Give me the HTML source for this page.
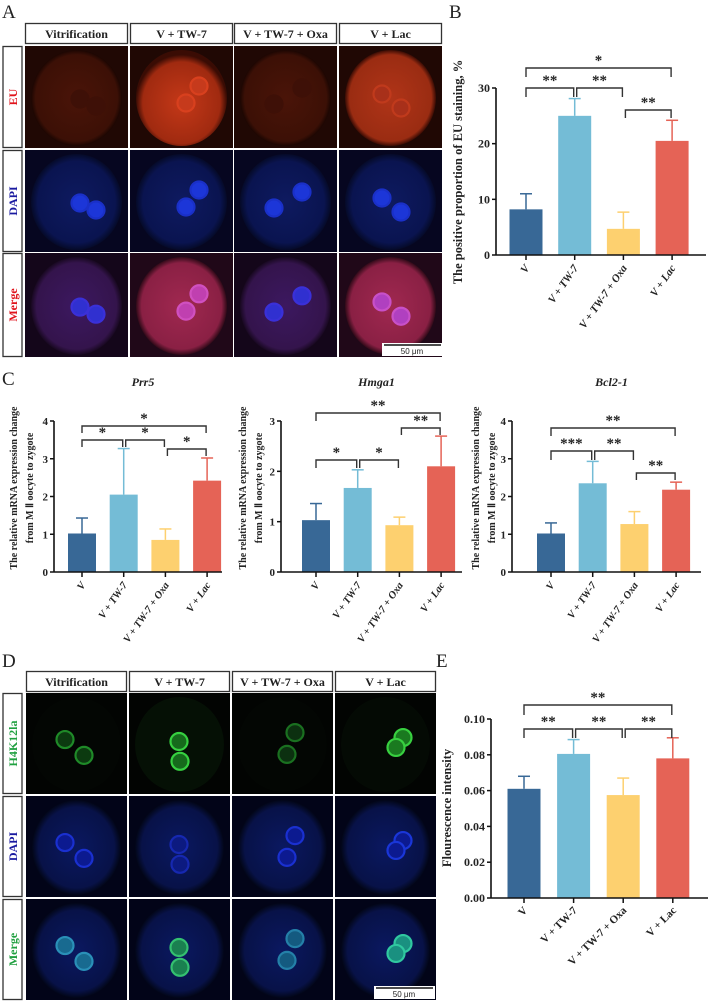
<!DOCTYPE html>
<html><head><meta charset="utf-8"><style>
html,body{margin:0;padding:0;background:#fff;}
svg{display:block;font-family:"Liberation Serif",serif;}
</style></head><body>
<svg id="fig" width="708" height="1001" viewBox="0 0 708 1001" xmlns="http://www.w3.org/2000/svg">
<defs>
<radialGradient id="gEUdim" cx="50%" cy="50%" r="50%"><stop offset="0" stop-color="#4a1408"/><stop offset="0.9" stop-color="#3c1006"/><stop offset="1" stop-color="#1c0602"/></radialGradient>
<radialGradient id="gEUbright" cx="50%" cy="55%" r="50%"><stop offset="0" stop-color="#c43818"/><stop offset="0.85" stop-color="#a02a10"/><stop offset="1" stop-color="#3a0c04"/></radialGradient>
<radialGradient id="gEUlac" cx="50%" cy="50%" r="50%"><stop offset="0" stop-color="#b03418"/><stop offset="0.9" stop-color="#9a2c12"/><stop offset="1" stop-color="#3a0c04"/></radialGradient>
<radialGradient id="gDAPI" cx="50%" cy="50%" r="50%"><stop offset="0" stop-color="#0e1a60"/><stop offset="0.85" stop-color="#0a1450"/><stop offset="1" stop-color="#050a28"/></radialGradient>
<radialGradient id="gMdim" cx="50%" cy="50%" r="50%"><stop offset="0" stop-color="#3c1860"/><stop offset="0.88" stop-color="#34144c"/><stop offset="1" stop-color="#180820"/></radialGradient>
<radialGradient id="gMbright" cx="50%" cy="50%" r="50%"><stop offset="0" stop-color="#a02850"/><stop offset="0.88" stop-color="#8a2044"/><stop offset="1" stop-color="#300a18"/></radialGradient>
<radialGradient id="gDblue" cx="50%" cy="50%" r="50%"><stop offset="0" stop-color="#0a1860"/><stop offset="0.85" stop-color="#081248"/><stop offset="1" stop-color="#020618"/></radialGradient>
</defs>
<g id="layer"></g>
</svg>
<script>
// ---------- chart data ----------
const groups = ["V", "V + TW-7", "V + TW-7 + Oxa", "V + Lac"];
const colors = ["#386896", "#74bcd6", "#fdd06f", "#e56356"];

const euValues = [8.2, 25.0, 4.7, 20.5];
const euErrors = [11.0, 28.1, 7.7, 24.2];
const euTicks = [0, 10, 20, 30];

const prr5Values = [1.02, 2.05, 0.85, 2.42];
const prr5Errors = [1.43, 3.27, 1.14, 3.02];
const hmga1Values = [1.03, 1.67, 0.93, 2.10];
const hmga1Errors = [1.36, 2.03, 1.09, 2.70];
const bcl2Values = [1.02, 2.35, 1.27, 2.18];
const bcl2Errors = [1.30, 2.93, 1.60, 2.38];
const ticks4 = [0, 1, 2, 3, 4];
const ticks3 = [0, 1, 2, 3];

const fluoValues = [0.061, 0.0805, 0.0575, 0.078];
const fluoErrors = [0.068, 0.0885, 0.067, 0.0895];
const fluoTicks = [0, 0.02, 0.04, 0.06, 0.08, 0.10];

const euSig = ["**", "**", "**", "*"];
const prr5Sig = ["*", "*", "*", "*"];
const hmga1Sig = ["*", "*", "**", "**"];
const bcl2Sig = ["***", "**", "**", "**"];
const fluoSig = ["**", "**", "**", "**"];

const NS = "http://www.w3.org/2000/svg";
const layer = document.getElementById('layer');
function mk(tag, attrs, parent, txt) {
  const e = document.createElementNS(NS, tag);
  for (const k in attrs) e.setAttribute(k, attrs[k]);
  if (txt !== undefined) e.textContent = txt;
  (parent || layer).appendChild(e);
  return e;
}

// ---------- panel letters ----------
[["A",2,18],["B",449,18],["C",2,385],["D",2,667],["E",436,667]].forEach(p => {
  const t = mk('text', {x: p[1], y: p[2], 'font-size': 19, fill: '#222'}, null, p[0]);
  
  
});

// ---------- image grids ----------
const relA = [[[55,53],[71,60]], [[69,40],[56,57]], [[68,42],[40,58]], [[43,48],[62,62]]];
const relD = [[[39,47],[58,63]], [[50,49],[51,69]], [[63,40],[55,62]], [[68,45],[61,55]]];

function grid(prefix, colX, colW, hy, rows, rowLabels, labelColors, kinds, rel) {
  groups.forEach((g, i) => {
    const label = i === 0 ? "Vitrification" : g;
    const r = mk('rect', {x: colX[i] + 0.5, y: hy + 0.5, width: colW - 1, height: 20, fill: '#fff', stroke: '#333', 'stroke-width': 1.3});
    
    
    const t = mk('text', {x: colX[i] + colW / 2, y: hy + 15, 'text-anchor': 'middle', 'font-size': 12, 'font-weight': 'bold', fill: '#222'}, null, label);
    
    
  });
  rows.forEach((row, ri) => {
    const y0 = row[0], h = row[1];
    const lb = mk('rect', {x: 3, y: y0 + 0.5, width: 19, height: h - 1, fill: '#fff', stroke: '#333', 'stroke-width': 1.3});
    
    
    const lt = mk('text', {x: 0, y: 0, transform: `translate(17,${y0 + h / 2}) rotate(-90)`, 'text-anchor': 'middle', 'font-size': 12, 'font-weight': 'bold', fill: labelColors[ri]}, null, rowLabels[ri]);
    
    
    colX.forEach((cx, ci) => {
      const k = kinds[ri][ci];
      const g = mk('g', {});
      
      
      mk('rect', {x: cx, y: y0, width: colW, height: h, fill: k.bg}, g);
      mk('ellipse', {cx: cx + colW / 2, cy: y0 + h / 2 + 1, rx: colW / 2 - 6, ry: h / 2 - 3, fill: k.cell}, g);
      rel[ci].forEach(n => {
        const sy = h / 102;
        mk('circle', {cx: cx + n[0], cy: y0 + n[1] * sy, r: 8.5, fill: k.nuc, stroke: k.ring, 'stroke-width': 2.2}, g);
      });
    });
  });
}

grid('a', [25, 130, 234, 339], 103, 23,
  [[46, 102], [150, 102], [253, 104]],
  ["EU", "DAPI", "Merge"], ["#e0141c", "#1a1aa0", "#e0141c"],
  [
    [{bg:'#200804',cell:'url(#gEUdim)',nuc:'#3e1007',ring:'#3e1007'},{bg:'#200804',cell:'url(#gEUbright)',nuc:'#c63a1c',ring:'#d8401e'},{bg:'#200804',cell:'url(#gEUdim)',nuc:'#3e1007',ring:'#3e1007'},{bg:'#200804',cell:'url(#gEUlac)',nuc:'#a8301a',ring:'#c03a1c'}],
    [{bg:'#060620',cell:'url(#gDAPI)',nuc:'#1c36d8',ring:'#1a30c8'},{bg:'#060620',cell:'url(#gDAPI)',nuc:'#1c36d8',ring:'#1a30c8'},{bg:'#060620',cell:'url(#gDAPI)',nuc:'#1c36d8',ring:'#1a30c8'},{bg:'#060620',cell:'url(#gDAPI)',nuc:'#1c36d8',ring:'#1a30c8'}],
    [{bg:'#14061a',cell:'url(#gMdim)',nuc:'#3030d0',ring:'#3a30d8'},{bg:'#200818',cell:'url(#gMbright)',nuc:'#c040b0',ring:'#d050c0'},{bg:'#14061a',cell:'url(#gMdim)',nuc:'#3030d0',ring:'#3a30d8'},{bg:'#200818',cell:'url(#gMbright)',nuc:'#b040c0',ring:'#c850c8'}]
  ], relA);

grid('d', [26, 129, 232, 335], 101, 671,
  [[693, 101], [796, 101], [899, 101]],
  ["H4K12la", "DAPI", "Merge"], ["#20a040", "#1a1aa0", "#20a040"],
  [
    [{bg:'#020402',cell:'#030603',nuc:'#0c3a10',ring:'#1f8a28'},{bg:'#020402',cell:'#051005',nuc:'#166a1c',ring:'#36d040'},{bg:'#020402',cell:'#030603',nuc:'#0c3010',ring:'#1a7020'},{bg:'#020402',cell:'#040a04',nuc:'#1a7a20',ring:'#38d040'}],
    [{bg:'#020418',cell:'url(#gDblue)',nuc:'#0c1a90',ring:'#1a30d0'},{bg:'#020418',cell:'url(#gDblue)',nuc:'#0c1a80',ring:'#1628b0'},{bg:'#020418',cell:'url(#gDblue)',nuc:'#0c1a90',ring:'#1a30d0'},{bg:'#020418',cell:'url(#gDblue)',nuc:'#0c1a90',ring:'#1a36d8'}],
    [{bg:'#020418',cell:'url(#gDblue)',nuc:'#186a90',ring:'#2a90b8'},{bg:'#020418',cell:'url(#gDblue)',nuc:'#1a8050',ring:'#34c070'},{bg:'#020418',cell:'url(#gDblue)',nuc:'#145a80',ring:'#2480a8'},{bg:'#020418',cell:'url(#gDblue)',nuc:'#1a9080',ring:'#30c8a0'}]
  ], relD);

// scale bars
[[357, 'a', 443], [1000, 'd', 435]].forEach(s => {
  const g = mk('g', {});
  
  
  const r = s[2];
  mk('rect', {x: r - 61, y: s[0] - 14, width: 61, height: 13, fill: '#fff'}, g);
  mk('line', {x1: r - 59, x2: r - 2, y1: s[0] - 12, y2: s[0] - 12, stroke: '#111', 'stroke-width': 1.5}, g);
  mk('text', {x: r - 31, y: s[0] - 3, 'text-anchor': 'middle', 'font-size': 8, 'font-family': 'Liberation Sans, sans-serif', fill: '#222'}, g, '50 μm');
});

// ---------- bar chart drawer ----------
function chart(o) {
  const g = mk('g', {});
  
  
  const yS = v => o.y0 - (v - o.ticks[0]) / (o.ticks[o.ticks.length - 1] - o.ticks[0]) * (o.y0 - o.yTop);
  const xS = i => o.ax + o.first + i * o.step;
  if (o.title) {
    const t = mk('text', {x: (o.ax + o.xEnd) / 2 + 5, y: o.titleY, 'text-anchor': 'middle', 'font-size': 12, 'font-style': 'italic', 'font-weight': 'bold', fill: '#222'}, g, o.title);
    
    
  }
  o.values.forEach((v, i) => {
    const cx = xS(i);
    const ey = yS(o.errors[i]);
    mk('line', {x1: cx, x2: cx, y1: yS(v), y2: ey, stroke: colors[i], 'stroke-width': 1.5}, g);
    mk('line', {x1: cx - 6, x2: cx + 6, y1: ey, y2: ey, stroke: colors[i], 'stroke-width': 1.5}, g);
    const b = mk('rect', {x: cx - o.bw / 2, y: yS(v), width: o.bw, height: o.y0 - yS(v), fill: colors[i]}, g);
    
    
    mk('line', {x1: cx, x2: cx, y1: o.y0, y2: o.y0 + 5, stroke: '#111', 'stroke-width': 1.5}, g);
    const lx = cx + 4, ly = o.y0 + 13;
    const lt = mk('text', {x: 0, y: 0, transform: `translate(${lx},${ly}) rotate(${o.rot})`, 'text-anchor': 'end', 'font-size': o.lfs, 'font-weight': 'bold', 'font-style': o.italic ? 'italic' : 'normal', fill: '#222'}, g, groups[i]);
    
    
  });
  mk('line', {x1: o.ax, x2: o.xEnd, y1: o.y0, y2: o.y0, stroke: '#111', 'stroke-width': 1.6}, g);
  mk('line', {x1: o.ax, x2: o.ax, y1: o.y0, y2: o.yTop, stroke: '#111', 'stroke-width': 1.6}, g);
  o.ticks.forEach(t => {
    const y = yS(t);
    mk('line', {x1: o.ax - 4, x2: o.ax, y1: y, y2: y, stroke: '#111', 'stroke-width': 1.5}, g);
    const tt = mk('text', {x: o.ax - 6, y: y + 4, 'text-anchor': 'end', 'font-size': o.tfs, 'font-weight': 'bold', fill: '#222'}, g, o.fmt(t));
    
    
  });
  o.ylab.forEach((line, k) => {
    const t = mk('text', {x: 0, y: 0, transform: `translate(${o.ylabX[k]},${o.ylabY}) rotate(-90)`, 'text-anchor': 'middle', 'font-size': o.yfs, 'font-weight': 'bold', fill: '#222'}, g, line);
    
    
  });
  o.br.forEach((b, k) => {
    const x1 = xS(b[0]) + (b[0] > 0 && b[2] ? 2 : 0), x2 = xS(b[1]) - 1;
    const y = b[2], d = b[3];
    mk('path', {d: `M${x1},${y + d}V${y}H${x2}V${y + d}`, fill: 'none', stroke: '#333', 'stroke-width': 1.4}, g);
    const s = mk('text', {x: (x1 + x2) / 2, y: y - 3, 'text-anchor': 'middle', 'font-size': 15, 'font-weight': 'bold', fill: '#222'}, g, o.sig[k]);
    
    
  });
}

const intFmt = t => String(t);
chart({name: 'eu-chart', ax: 496, xEnd: 706, y0: 255, yTop: 88, ticks: euTicks, fmt: intFmt,
  first: 30, step: 48.7, bw: 33, values: euValues, errors: euErrors, rot: -55, lfs: 11, italic: true, tfs: 12,
  ylab: ["The positive proportion of EU staining, %"], ylabX: [462], ylabY: 172, yfs: 12.5, sig: euSig,
  br: [[0, 1, 88, 9], [1, 2, 88, 9], [2, 3, 110, 8], [0, 3, 68, 9]]});

chart({name: 'prr5-chart', title: 'Prr5', titleY: 386, ax: 54, xEnd: 222, y0: 572, yTop: 421, ticks: ticks4, fmt: intFmt,
  first: 28, step: 41.7, bw: 28, values: prr5Values, errors: prr5Errors, rot: -55, lfs: 10.5, italic: true, tfs: 11,
  ylab: ["The relative mRNA expression change", "from M \u2161 oocyte to zygote"], ylabX: [17, 33], ylabY: 488, yfs: 10, sig: prr5Sig,
  br: [[0, 1, 440, 7], [1, 2, 440, 7], [2, 3, 449, 7], [0, 3, 426, 7]]});

chart({name: 'hmga1-chart', title: 'Hmga1', titleY: 386, ax: 281, xEnd: 462, y0: 572, yTop: 421, ticks: ticks3, fmt: intFmt,
  first: 35, step: 41.7, bw: 28, values: hmga1Values, errors: hmga1Errors, rot: -55, lfs: 10.5, italic: true, tfs: 11,
  ylab: ["The relative mRNA expression change", "from M \u2161 oocyte to zygote"], ylabX: [246, 262], ylabY: 488, yfs: 10, sig: hmga1Sig,
  br: [[0, 1, 460, 8], [1, 2, 460, 8], [2, 3, 428, 7], [0, 3, 413, 8]]});

chart({name: 'bcl2-chart', title: 'Bcl2-1', titleY: 386, ax: 512, xEnd: 701, y0: 572, yTop: 421, ticks: ticks4, fmt: intFmt,
  first: 39, step: 41.7, bw: 28, values: bcl2Values, errors: bcl2Errors, rot: -55, lfs: 10.5, italic: true, tfs: 11,
  ylab: ["The relative mRNA expression change", "from M \u2161 oocyte to zygote"], ylabX: [479, 495], ylabY: 488, yfs: 10, sig: bcl2Sig,
  br: [[0, 1, 451, 9], [1, 2, 451, 9], [2, 3, 473, 7], [0, 3, 428, 8]]});

chart({name: 'fluorescence-chart', ax: 491, xEnd: 708, y0: 898, yTop: 719, ticks: fluoTicks, fmt: t => t.toFixed(2),
  first: 33, step: 49.6, bw: 33, values: fluoValues, errors: fluoErrors, rot: -45, lfs: 11, italic: false, tfs: 12,
  ylab: ["Flourescence intensity"], ylabX: [451], ylabY: 808, yfs: 12.5, sig: fluoSig,
  br: [[0, 1, 729, 9], [1, 2, 729, 9], [2, 3, 729, 9], [0, 3, 705, 10]]});
</script>
</body></html>
